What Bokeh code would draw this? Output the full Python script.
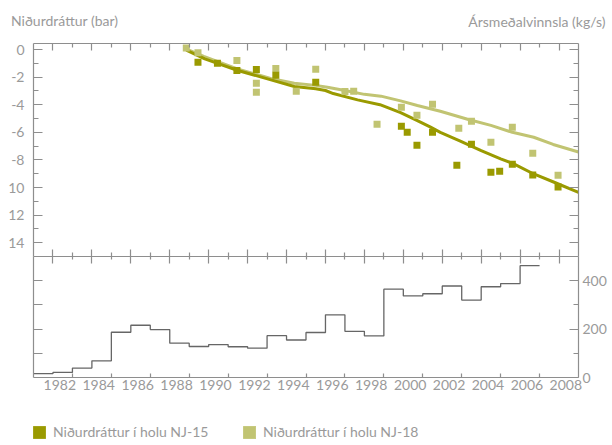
from bokeh.plotting import figure
from bokeh.models import (Range1d, LinearAxis, FixedTicker, Label, Legend,
                          LegendItem)
from bokeh.embed import file_html
from bokeh.resources import INLINE

# ---------------- data ----------------
# Drawdown measurements (bar), plotted downward
nj15_year = [1989.45, 1990.45, 1991.45, 1992.45, 1993.45, 1995.5, 1999.9, 2000.2,
             2000.7, 2001.5, 2002.75, 2003.5, 2004.5, 2004.95, 2005.6, 2006.65, 2007.95]
nj15_dd = [0.93, 0.99, 1.52, 1.45, 1.86, 2.37, 5.56, 6.0,
           6.94, 6.0, 8.39, 6.87, 8.9, 8.83, 8.32, 9.09, 9.96]

nj18_year = [1988.85, 1989.45, 1991.45, 1992.45, 1992.45, 1993.45, 1994.5, 1995.5,
             1997.0, 1997.45, 1998.65, 1999.9, 2000.7, 2001.5, 2002.85, 2003.5,
             2004.5, 2005.6, 2006.65, 2007.95]
nj18_dd = [-0.1, 0.23, 0.8, 2.44, 3.1, 1.38, 3.02, 1.43,
           3.05, 3.02, 5.42, 4.18, 4.76, 3.97, 5.71, 5.2,
           6.72, 5.63, 7.52, 9.12]

# Smoothed trend lines
nj15_trend_year = [1988.85, 1989.8, 1991.5, 1993.2, 1994.4, 1995.5, 1996.0, 1996.4, 1997.65,
                   1998.8, 1999.86, 2000.72, 2001.4, 2001.9, 2002.9, 2004.0, 2005.0, 2005.7,
                   2006.7, 2007.75, 2009.0]
nj15_trend_dd = [0.05, 0.68, 1.52, 2.2, 2.68, 2.85, 2.97, 3.19, 3.65,
                 4.0, 4.58, 5.15, 5.63, 6.0, 6.62, 7.33, 7.93, 8.3,
                 9.02, 9.62, 10.35]

nj18_trend_year = [1988.83, 1989.75, 1991.47, 1993.18, 1994.4, 1995.5, 1996.1, 1997.0, 1998.0,
                   1998.85, 1999.86, 2000.72, 2001.9, 2003.3, 2004.5, 2005.6, 2006.7,
                   2007.7, 2009.0]
nj18_trend_dd = [-0.05, 0.5, 1.4, 2.1, 2.44, 2.6, 2.73, 2.97, 3.25,
                 3.38, 3.72, 4.06, 4.47, 5.05, 5.5, 6.0, 6.36,
                 6.88, 7.43]

# Annual mean production (kg/s)
prod_year = list(range(1981, 2007))
prod_kgs = [16, 21, 39, 69, 187, 216, 198, 142, 128, 136, 127, 121, 173, 155,
            186, 259, 191, 172, 365, 337, 346, 378, 320, 375, 388, 462]

dd_ticks = [0, 2, 4, 6, 8, 10, 12, 14]
dd_tick_labels = ["0", "-2", "-4", "-6", "-8", "10", "12", "14"]
year_labels = list(range(1982, 2009, 2))
kgs_ticks = [0, 200, 400]

# ---------------- layout (pixels) ----------------
W, H = 612, 445
FX0, FX1 = 33, 578          # panel left / right
FY_TOP, FY_MID, FY_BOT = 43, 256, 377
YEAR0, YEAR1 = 1981, 2009
DD_TOP, DD_BOT = -0.435, 15.0
KGS_BOT, KGS_TOP = 0.0, 500.0

xs = (FX1 - FX0) / (YEAR1 - YEAR0)
x_start = YEAR0 - FX0 / xs
x_end = YEAR1 + (W - FX1) / xs

ds = (FY_MID - FY_TOP) / (DD_BOT - DD_TOP)
dd_end = DD_TOP - FY_TOP / ds
dd_start = DD_BOT + (H - FY_MID) / ds

ks = (FY_BOT - FY_MID) / (KGS_TOP - KGS_BOT)
k_start = KGS_BOT - (H - FY_BOT) / ks
k_end = KGS_BOT + FY_BOT / ks


def px_to_year(px):
    return x_start + px / xs


def py_to_dd(py):
    return dd_end + py / ds


# ---------------- style ----------------
FONT = "Lato"
TXT = "#9a9a9a"
AX = "#8e8e8e"
C15 = "#9a9a00"
C18 = "#c1c472"

p = figure(width=W, height=H, output_backend="svg", toolbar_location=None,
           x_range=Range1d(x_start, x_end), y_range=Range1d(k_start, k_end),
           min_border=0, x_axis_type=None, y_axis_type=None)
p.extra_y_ranges = {"dd": Range1d(dd_start, dd_end)}
p.outline_line_color = None
p.xgrid.visible = False
p.ygrid.visible = False
p.background_fill_color = "white"
p.border_fill_color = "white"


def style(ax, labels=True):
    ax.axis_line_color = AX
    ax.axis_line_width = 1.2
    ax.major_tick_line_color = AX
    ax.minor_tick_line_color = AX
    ax.major_tick_line_width = 1.2
    ax.minor_tick_line_width = 1.2
    ax.major_tick_out = 0
    ax.minor_tick_out = 0
    ax.major_label_text_font = FONT
    ax.major_label_text_font_size = "14px" if labels else "0px"
    ax.major_label_text_color = TXT if labels else None


odd_years = list(range(1983, 2009, 2))
even_years = list(range(1982, 2009, 2))
dd_minor = [1, 3, 5, 7, 9, 11, 13]

# left axis: drawdown labels (upper panel)
la = LinearAxis(y_range_name="dd", fixed_location=YEAR0, bounds=(DD_TOP, DD_BOT),
                ticker=FixedTicker(ticks=dd_ticks, minor_ticks=dd_minor))
style(la)
la.major_tick_in = 9
la.minor_tick_in = 5
la.major_label_standoff = 9
la.major_label_overrides = {t: s for t, s in zip(dd_ticks, dd_tick_labels)}
p.add_layout(la, "left")

# left axis: ticks for lower panel
la2 = LinearAxis(fixed_location=YEAR0, bounds=(KGS_BOT, KGS_TOP),
                 ticker=FixedTicker(ticks=[100, 200, 300, 400]))
style(la2, labels=False)
la2.major_tick_in = 9
p.add_layout(la2, "left")

# right axis: production labels (lower panel)
ra = LinearAxis(fixed_location=YEAR1, bounds=(KGS_BOT, KGS_TOP),
                ticker=FixedTicker(ticks=kgs_ticks, minor_ticks=[100, 300]))
style(ra)
ra.major_tick_in = 9
ra.minor_tick_in = 5
ra.major_label_standoff = 4
p.add_layout(ra, "right")

# right axis: ticks for upper panel
ra2 = LinearAxis(y_range_name="dd", fixed_location=YEAR1, bounds=(DD_TOP, DD_BOT),
                 ticker=FixedTicker(ticks=dd_ticks, minor_ticks=dd_minor))
style(ra2, labels=False)
ra2.major_tick_in = 9
ra2.minor_tick_in = 5
p.add_layout(ra2, "right")

# top axis
ta = LinearAxis(y_range_name="dd", fixed_location=DD_TOP, bounds=(YEAR0, YEAR1),
                ticker=FixedTicker(ticks=even_years, minor_ticks=odd_years))
style(ta, labels=False)
ta.major_tick_in = 7
ta.minor_tick_in = 4
p.add_layout(ta, "above")

# divider axis between panels
ma = LinearAxis(y_range_name="dd", fixed_location=DD_BOT, bounds=(YEAR0, YEAR1),
                ticker=FixedTicker(ticks=even_years, minor_ticks=odd_years))
style(ma, labels=False)
ma.major_tick_in = 7
ma.major_tick_out = 7
ma.minor_tick_in = 4
ma.minor_tick_out = 3
p.add_layout(ma, "below")

# bottom axis with year labels
label_pos = [y + 0.35 for y in year_labels]
ba = LinearAxis(fixed_location=KGS_BOT, bounds=(YEAR0, YEAR1),
                ticker=FixedTicker(ticks=label_pos, minor_ticks=odd_years))
style(ba)
ba.major_tick_in = 0
ba.minor_tick_in = 4
ba.major_label_standoff = 2
ba.major_label_overrides = {t: str(y) for t, y in zip(label_pos, year_labels)}
p.add_layout(ba, "below")

# ---------------- data marks ----------------
p.line(nj18_trend_year, nj18_trend_dd, y_range_name="dd", line_color=C18, line_width=3)
p.line(nj15_trend_year, nj15_trend_dd, y_range_name="dd", line_color=C15, line_width=3)
p.scatter(nj18_year, nj18_dd, y_range_name="dd", marker="square", size=7,
          fill_color=C18, line_color=None)
p.scatter(nj15_year, nj15_dd, y_range_name="dd", marker="square", size=7,
          fill_color=C15, line_color=None)

step_x = prod_year + [prod_year[-1] + 1]
step_y = prod_kgs + [prod_kgs[-1]]
p.step(step_x, step_y, mode="after", line_color="#666666", line_width=1.3)

# ---------------- titles ----------------
p.add_layout(Label(x=px_to_year(10.5), y=py_to_dd(19.5), y_range_name="dd",
                   text="Niðurdráttur (bar)",
                   text_font=FONT, text_font_size="14px", text_color=TXT,
                   text_align="left", text_baseline="middle"))
p.add_layout(Label(x=px_to_year(605), y=py_to_dd(21), y_range_name="dd",
                   text="Ársmeðalvinnsla (kg/s)",
                   text_font=FONT, text_font_size="14px", text_color=TXT,
                   text_align="right", text_baseline="middle"))

# ---------------- legend (hidden proxies built from the same data) ----------------
q15 = p.quad(left=nj15_year, right=nj15_year, top=nj15_dd, bottom=nj15_dd,
             y_range_name="dd", fill_color=C15, line_color=None, visible=False)
q18 = p.quad(left=nj18_year, right=nj18_year, top=nj18_dd, bottom=nj18_dd,
             y_range_name="dd", fill_color=C18, line_color=None, visible=False)
legend = Legend(items=[LegendItem(label="Niðurdráttur í holu NJ-15", renderers=[q15]),
                       LegendItem(label="Niðurdráttur í holu NJ-18", renderers=[q18])],
                location=(31, 5), orientation="horizontal", click_policy="none",
                glyph_width=16, glyph_height=16, label_height=16, label_width=188,
                label_standoff=6, spacing=0, padding=0, margin=0,
                border_line_color=None, background_fill_alpha=0,
                label_text_font=FONT, label_text_font_size="14px",
                label_text_color=TXT)
p.add_layout(legend, "center")

open("out.html", "w").write(file_html(p, INLINE))
